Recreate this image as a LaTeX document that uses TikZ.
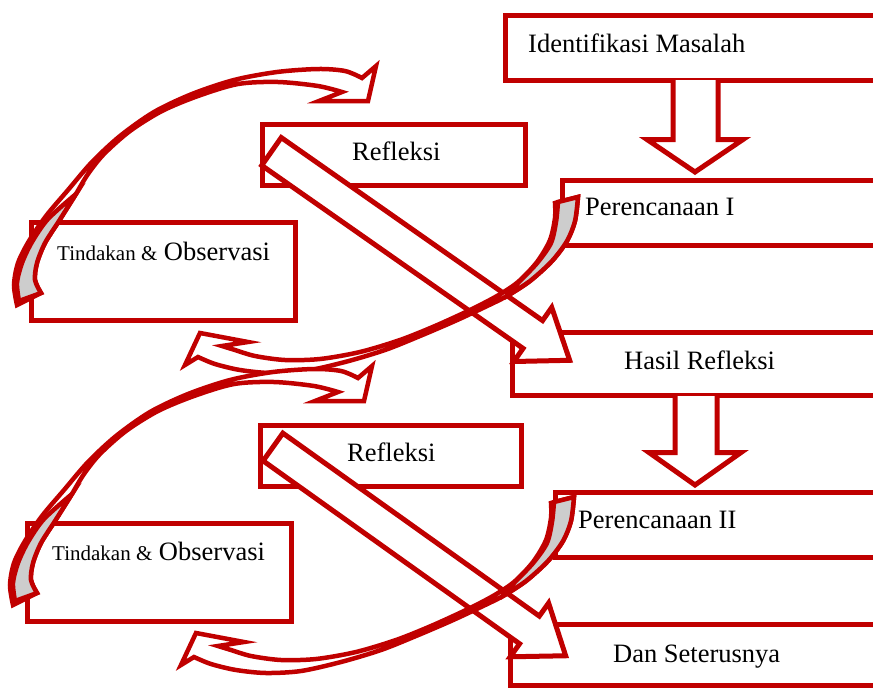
\documentclass[tikz,border=0pt]{standalone}
\usepackage{fontspec}
\setmainfont{Liberation Serif}
\definecolor{rd}{RGB}{192,0,0}
\definecolor{gr}{RGB}{205,205,205}
\newcommand{\bigfs}{\fontsize{26.5}{30}\selectfont}
\newcommand{\smallfs}{\fontsize{21}{24}\selectfont}
\newcommand{\arcshapes}{%
  % left arc (tail with shaded back at bottom-left, head at top right)
  \draw[crv] plot[smooth] coordinates {(17,305) (14,285) (18,263) (29,241) (46,216) (68,190) (92,162) (120,136) (154,112) (192,94) (234,80) (277,72) (318,69) (345,71) (362,78)}
    -- (376,66) -- (368,101) -- (319,101) -- (342,92)
    -- plot[smooth] coordinates {(342,92) (318,86) (278,82) (238,84) (198,96) (162,111) (130,131) (104,154) (88,174) (76,194)}
    -- plot[smooth] coordinates {(76,194) (59,221) (45,243) (37,263) (35,280) (41,293)}
    -- cycle;
  \draw[shade] plot[smooth] coordinates {(76,194) (48,219) (32,242) (22,263) (17,283) (19,301)}
    -- (41,293) -- plot[smooth] coordinates {(41,293) (35,280) (37,263) (45,243) (59,221) (76,194)} -- cycle;
  % lower arc (tail with shaded back at top right, head at left)
  \draw[crv] plot[smooth] coordinates {(555,203) (555,218) (550,240) (537,262) (518,282) (497,296) (470,310) (435,326) (400,340) (360,352) (320,359) (285,360) (255,356) (235,350) (222,346)}
    -- (248,342) -- (200,333) -- (185,365) -- (198,357)
    -- plot[smooth] coordinates {(198,357) (215,364) (240,370) (270,373) (305,371) (345,362) (385,350) (420,336) (455,321) (485,307) (507,296) (530,281) (552,261) (567,241) (575,221) (578,197)}
    -- cycle;
  \draw[shade] plot[smooth] coordinates {(558,202) (556,222) (551,243) (538,262) (522,279) (507,294)}
    -- plot[smooth] coordinates {(507,296) (530,281) (552,261) (567,241) (575,221) (578,197)} -- cycle;
}
\newcommand{\diagarrow}[5]{%
  \begin{scope}[shift={(#1,#2)}, rotate=#3]
    \draw[blk] (0,-17) -- (#5,-17) -- (#5,-33) -- (#4,0) -- (#5,33) -- (#5,17) -- (0,17) -- cycle;
  \end{scope}}
\begin{document}
\begin{tikzpicture}[x=1pt,y=-1pt,
  box/.style={draw=rd,line width=5pt,fill=white},
  blk/.style={draw=rd,line width=5pt,fill=white,line join=miter},
  crv/.style={draw=rd,line width=4.5pt,fill=white,line join=miter},
  shade/.style={draw=rd,line width=4.5pt,fill=gr,line join=miter},
  lbl/.style={font=\bigfs,inner sep=0pt,anchor=base west,text=black}]
\useasboundingbox (0,0) rectangle (873,691);
\clip (0,0) rectangle (873,691);
% right column boxes
\draw[box] (505,15) rectangle (885,80);
\draw[box] (562.5,180) rectangle (885,245.5);
\draw[box] (512.5,332.5) rectangle (885,395.5);
\draw[box] (555.5,492.5) rectangle (885,557.5);
\draw[box] (510.5,624.5) rectangle (885,685.5);
% left boxes
\draw[box] (262.5,124.5) rectangle (525.5,185.5);
\draw[box] (31.5,222.5) rectangle (295.5,320.5);
\draw[box] (260.5,425) rectangle (521.5,486);
\draw[box] (27.5,523.5) rectangle (291.5,621.5);
% down arrows
\draw[blk] (673,80) -- (673,139.5) -- (647,139.5) -- (695,172) -- (743,139.5) -- (718,139.5) -- (718,80);
\draw[blk] (675,396) -- (675,452.5) -- (649,452.5) -- (695,485) -- (741,452.5) -- (717,452.5) -- (717,396);
% diagonal block arrows
\diagarrow{271.5}{151.5}{-35}{364}{319}
\diagarrow{273}{447}{-35.5}{359.5}{315}
% curved arrows
\arcshapes
\begin{scope}[shift={(-4,300)}]
\arcshapes
\end{scope}
% labels
\node[lbl] (t1) at (528,52) {Identifikasi Masalah};
\node[lbl] (t2) at (352,160) {Refleksi};
\node[lbl] (t3) at (57,260) {{\smallfs Tindakan \&} Observasi};
\node[lbl] (t4) at (585,215) {Perencanaan I};
\node[lbl] (t5) at (624,369) {Hasil Refleksi};
\node[lbl] (t6) at (347,461.5) {Refleksi};
\node[lbl] (t7) at (52,560) {{\smallfs Tindakan \&} Observasi};
\node[lbl] (t8) at (578,528) {Perencanaan II};
\node[lbl] (t9) at (613,662) {Dan Seterusnya};
\end{tikzpicture}
\end{document}
